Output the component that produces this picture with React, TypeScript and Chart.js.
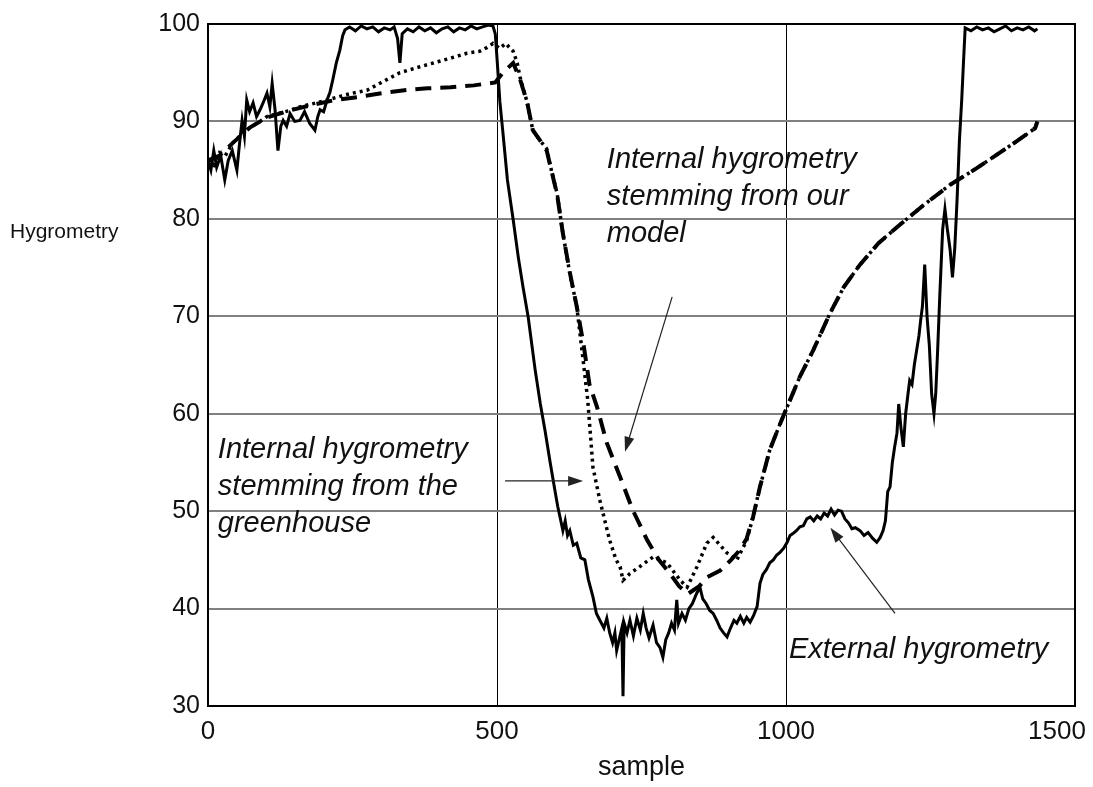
import React, { useEffect, useRef } from "react";
import { Chart, registerables } from "chart.js";

Chart.register(...registerables);

// ---- axis ticks ----
const sampleTicks = [0, 500, 1000, 1500];
const hygroTicks = [30, 40, 50, 60, 70, 80, 90, 100];

// ---- External hygrometry (solid) [sample, value] ----
const externalHygrometry: [number, number][] = [
  [0, 86], [5, 85], [10, 87], [15, 85.3], [22, 86.5], [29, 84], [35, 86], [42, 87], [50, 85], [55, 88],
  [59, 90.1], [63, 88.5], [67, 92.2], [72, 91], [78, 91.9], [84, 90.5], [90, 91.2], [96, 92], [102, 92.9],
  [107, 91.5], [111, 93.9], [116, 91.2], [121, 87], [126, 89.5], [130, 90.1], [136, 89.5], [142, 90.8],
  [150, 90], [159, 90.1], [167, 91], [176, 89.8], [185, 89.1], [190, 90.5], [194, 91.2], [200, 91],
  [206, 92.2], [211, 93], [216, 94.3], [222, 96], [228, 97.3], [233, 98.8], [237, 99.4], [245, 99.7],
  [255, 99.3], [265, 99.8], [275, 99.5], [285, 99.7], [295, 99.2], [305, 99.6], [315, 99.4], [322, 99.7],
  [328, 98.5], [332, 96], [336, 99], [345, 99.5], [355, 99.2], [365, 99.7], [375, 99.3], [385, 99.6],
  [395, 99.1], [405, 99.5], [415, 99.7], [425, 99.2], [435, 99.6], [445, 99.4], [455, 99.8], [465, 99.5],
  [475, 99.7], [485, 99.9], [493, 99.8], [497, 99], [500, 96.5], [505, 92], [510, 89], [518, 84],
  [528, 79.9], [537, 76], [545, 73], [554, 69.9], [566, 64.5], [575, 61], [583, 58.3], [592, 55],
  [600, 52.2], [605, 50.5], [609, 49.4], [614, 48], [618, 49], [622, 47.5], [626, 48], [632, 46.5],
  [638, 46.7], [645, 45.2], [652, 45], [658, 43], [666, 41.2], [672, 39.5], [678, 38.8], [685, 38],
  [690, 39], [695, 37.5], [700, 36.5], [704, 37.5], [707, 35.7], [712, 37], [716, 38], [718, 31],
  [720, 38.5], [725, 37.5], [730, 38.8], [736, 37.2], [742, 39], [748, 37.8], [753, 39.5], [758, 38],
  [763, 37], [770, 38.3], [776, 36.5], [782, 36], [787, 35], [792, 36.8], [797, 37.5], [802, 38.5],
  [807, 37.8], [811, 40.9], [814, 38.5], [820, 39.5], [826, 38.8], [832, 40], [838, 40.5], [845, 41.5],
  [851, 42.2], [856, 41], [862, 40.5], [868, 39.8], [874, 39.5], [880, 38.8], [886, 38], [892, 37.5],
  [898, 37.1], [904, 38], [910, 38.8], [915, 38.5], [921, 39.2], [927, 38.5], [932, 39.1], [938, 38.6],
  [944, 39.3], [950, 40.2], [955, 42.6], [960, 43.5], [966, 44], [972, 44.7], [978, 45], [984, 45.5],
  [990, 45.8], [996, 46.2], [1002, 46.8], [1007, 47.5], [1012, 47.7], [1018, 48], [1024, 48.4],
  [1030, 48.5], [1036, 49.2], [1042, 49.4], [1048, 49], [1054, 49.5], [1060, 49.2], [1066, 49.8],
  [1072, 49.5], [1078, 50.2], [1084, 49.6], [1090, 50.1], [1096, 50], [1102, 49.2], [1108, 48.8],
  [1114, 48.2], [1120, 48.3], [1128, 48], [1135, 47.5], [1142, 47.8], [1150, 47.2], [1157, 46.8],
  [1163, 47.3], [1168, 48], [1172, 49], [1176, 52], [1180, 52.5], [1184, 55], [1188, 56.6], [1192, 58],
  [1195, 61], [1199, 58.5], [1203, 56.6], [1207, 60], [1211, 62], [1214, 63.4], [1218, 63], [1222, 65],
  [1226, 66.5], [1230, 68], [1233, 69.6], [1236, 71], [1240, 75.3], [1244, 70], [1248, 67], [1252, 62],
  [1256, 60], [1259, 62], [1262, 66], [1266, 72], [1271, 78.9], [1275, 81], [1279, 79], [1284, 76.8],
  [1288, 74], [1292, 77], [1296, 82], [1300, 88], [1304, 92.2], [1307, 96], [1310, 99.6], [1320, 99.3],
  [1330, 99.7], [1340, 99.4], [1350, 99.6], [1360, 99.2], [1370, 99.5], [1380, 99.8], [1390, 99.3],
  [1400, 99.6], [1410, 99.4], [1420, 99.7], [1430, 99.3], [1435, 99.5],
];

// ---- Internal hygrometry stemming from the greenhouse (dotted) ----
const greenhouseHygrometry: [number, number][] = [
  [0, 86], [10, 85.5], [20, 86.8], [30, 86.5], [43, 87.8], [55, 88.5], [73, 89.4], [90, 90], [102, 90.5],
  [120, 90.8], [140, 91.1], [159, 91.5], [180, 91.8], [206, 92.2], [230, 92.6], [250, 92.9], [275, 93.2],
  [300, 94], [332, 95], [360, 95.5], [390, 96], [420, 96.5], [448, 97], [470, 97.2], [483, 97.6],
  [493, 98], [505, 97.5], [515, 98], [528, 97.2], [535, 96], [540, 94.5], [552, 92], [562, 89.1],
  [575, 88], [586, 87.2], [592, 85.5], [604, 82.6], [614, 78.5], [626, 74.4], [638, 71], [648, 66],
  [657, 61.4], [666, 54.5], [678, 51.1], [695, 47], [706, 45], [713, 44.3], [718, 42.9], [730, 43.6],
  [747, 44.3], [770, 45.3], [794, 44.7], [817, 42.9], [829, 42.2], [846, 44.3], [863, 46.7], [874, 47.3],
  [886, 46.5], [898, 45.7], [915, 45], [932, 47], [943, 49.4], [955, 52.5], [972, 56.3], [990, 59],
  [1002, 60.7], [1024, 63.8], [1047, 66.5], [1076, 70.3], [1100, 73], [1128, 75.3], [1160, 77.5],
  [1197, 79.4], [1240, 81.5], [1284, 83.5], [1330, 85.2], [1370, 86.8], [1400, 88], [1431, 89.3],
  [1435, 90],
];

// ---- Internal hygrometry stemming from our model (dashed) ----
const modelHygrometry: [number, number][] = [
  [0, 86], [20, 86.5], [43, 87.8], [73, 89.4], [102, 90.4], [140, 91.1], [180, 91.7], [220, 92.2],
  [260, 92.5], [300, 92.9], [340, 93.2], [380, 93.4], [420, 93.5], [460, 93.7], [497, 94], [510, 95],
  [528, 96], [540, 94.3], [552, 92], [562, 89.1], [575, 88], [586, 87], [592, 85.5], [604, 82.5],
  [614, 78.5], [626, 74.5], [638, 71], [650, 67], [660, 63], [673, 60.7], [690, 57], [713, 53.5],
  [735, 50.1], [760, 47], [780, 45], [799, 43.6], [815, 42.3], [830, 41.5], [850, 42.3], [863, 43.2],
  [886, 43.9], [905, 45], [920, 46], [932, 47.2], [943, 49.4], [955, 52.5], [972, 56.3], [990, 59],
  [1002, 60.7], [1024, 63.8], [1047, 66.5], [1076, 70.3], [1100, 73], [1128, 75.3], [1160, 77.5],
  [1197, 79.4], [1240, 81.5], [1284, 83.5], [1330, 85.2], [1370, 86.8], [1400, 88], [1431, 89.3],
  [1435, 90],
];

const SANS = "'Liberation Sans', Arial, sans-serif";
const ITALIC = "italic 29px 'Liberation Sans', Arial, sans-serif";

const notes = [
  { x: 690, y: 85.2, lines: ["Internal hygrometry", "stemming from our", "model"] },
  { x: 17, y: 55.5, lines: ["Internal hygrometry", "stemming from the", "greenhouse"] },
  { x: 1005, y: 34.9, lines: ["External hygrometry"] },
];

const arrows = [
  { from: [803, 72.0], to: [721.5, 56.1] },
  { from: [514, 53.1], to: [649, 53.1] },
  { from: [1188.6, 39.5], to: [1076.8, 48.3] },
];

const toXY = (pts: [number, number][]) => pts.map(([x, y]) => ({ x, y }));

const annotationPlugin = {
  id: "frameAndNotes",
  afterDatasetsDraw(chart: any) {
    const { ctx, chartArea: a, scales } = chart;
    const xs = scales.x;
    const ys = scales.y;
    ctx.save();
    ctx.strokeStyle = "#000";
    ctx.lineWidth = 2;
    ctx.strokeRect(a.left, a.top, a.right - a.left, a.bottom - a.top);

    ctx.fillStyle = "#111";
    ctx.font = ITALIC;
    ctx.textAlign = "left";
    ctx.textBaseline = "alphabetic";
    for (const n of notes) {
      const px = xs.getPixelForValue(n.x);
      const py = ys.getPixelForValue(n.y);
      n.lines.forEach((l, i) => ctx.fillText(l, px, py + i * 37));
    }

    ctx.strokeStyle = "#222";
    ctx.fillStyle = "#222";
    ctx.lineWidth = 1.2;
    for (const ar of arrows) {
      const x1 = xs.getPixelForValue(ar.from[0]);
      const y1 = ys.getPixelForValue(ar.from[1]);
      const x2 = xs.getPixelForValue(ar.to[0]);
      const y2 = ys.getPixelForValue(ar.to[1]);
      const ang = Math.atan2(y2 - y1, x2 - x1);
      const L = 15;
      const W = 5;
      ctx.beginPath();
      ctx.moveTo(x1, y1);
      ctx.lineTo(x2 - Math.cos(ang) * (L - 2), y2 - Math.sin(ang) * (L - 2));
      ctx.stroke();
      ctx.beginPath();
      ctx.moveTo(x2, y2);
      ctx.lineTo(x2 - Math.cos(ang) * L - Math.sin(ang) * W, y2 - Math.sin(ang) * L + Math.cos(ang) * W);
      ctx.lineTo(x2 - Math.cos(ang) * L + Math.sin(ang) * W, y2 - Math.sin(ang) * L - Math.cos(ang) * W);
      ctx.closePath();
      ctx.fill();
    }

    ctx.fillStyle = "#111";
    ctx.font = `21px ${SANS}`;
    ctx.textAlign = "left";
    ctx.textBaseline = "middle";
    ctx.fillText("Hygrometry", 10, 232);
    ctx.restore();
  },
};

export default function App() {
  const ref = useRef<HTMLCanvasElement | null>(null);
  useEffect(() => {
    document.body.style.margin = "0";
    const canvas = ref.current;
    if (!canvas) return;
    const chart = new Chart(canvas, {
      type: "line",
      data: {
        datasets: [
          {
            label: "Internal hygrometry stemming from the greenhouse",
            data: toXY(greenhouseHygrometry),
            borderColor: "#000",
            borderWidth: 3.5,
            borderDash: [3, 4],
            pointRadius: 0,
            tension: 0,
          },
          {
            label: "Internal hygrometry stemming from our model",
            data: toXY(modelHygrometry),
            borderColor: "#000",
            borderWidth: 4,
            borderDash: [16, 9],
            pointRadius: 0,
            tension: 0,
          },
          {
            label: "External hygrometry",
            data: toXY(externalHygrometry),
            borderColor: "#000",
            borderWidth: 3,
            pointRadius: 0,
            tension: 0,
          },
        ],
      },
      options: {
        responsive: false,
        animation: false,
        devicePixelRatio: 1,
        layout: { padding: { left: 0, right: 18, top: 24, bottom: 0 } },
        plugins: { legend: { display: false }, tooltip: { enabled: false } },
        scales: {
          x: {
            type: "linear",
            min: 0,
            max: 1500,
            afterBuildTicks: (s: any) => {
              s.ticks = sampleTicks.map((v) => ({ value: v }));
            },
            afterFit: (s: any) => {
              s.height = 81;
              s.paddingLeft = 0;
              s.paddingRight = 0;
            },
            border: { display: false },
            grid: {
              color: "#000",
              lineWidth: 1,
              drawTicks: false,
            },
            ticks: {
              padding: 10,
              color: "#111",
              maxRotation: 0,
              font: { family: SANS, size: 26 },
              callback: (v: any) => (v === 1500 ? "1500\u00a0\u00a0\u00a0\u00a0\u00a0" : String(v)),
            },
            title: {
              display: true,
              text: "sample",
              color: "#111",
              font: { family: SANS, size: 27 },
              padding: { top: 0, bottom: 3 },
            },
          },
          y: {
            type: "linear",
            min: 30,
            max: 100,
            afterBuildTicks: (s: any) => {
              s.ticks = hygroTicks.map((v) => ({ value: v }));
            },
            afterFit: (s: any) => {
              s.width = 208;
              s.paddingTop = 0;
              s.paddingBottom = 0;
            },
            border: { display: false },
            grid: {
              color: "#808080",
              lineWidth: 2,
              drawTicks: false,
            },
            ticks: {
              padding: 8,
              color: "#111",
              font: { family: SANS, size: 25 },
            },
          },
        },
      },
      plugins: [annotationPlugin],
    });
    return () => chart.destroy();
  }, []);
  return (
    <div style={{ width: 1093, height: 787, background: "#fff" }}>
      <canvas ref={ref} width={1093} height={787} style={{ display: "block" }} />
    </div>
  );
}
